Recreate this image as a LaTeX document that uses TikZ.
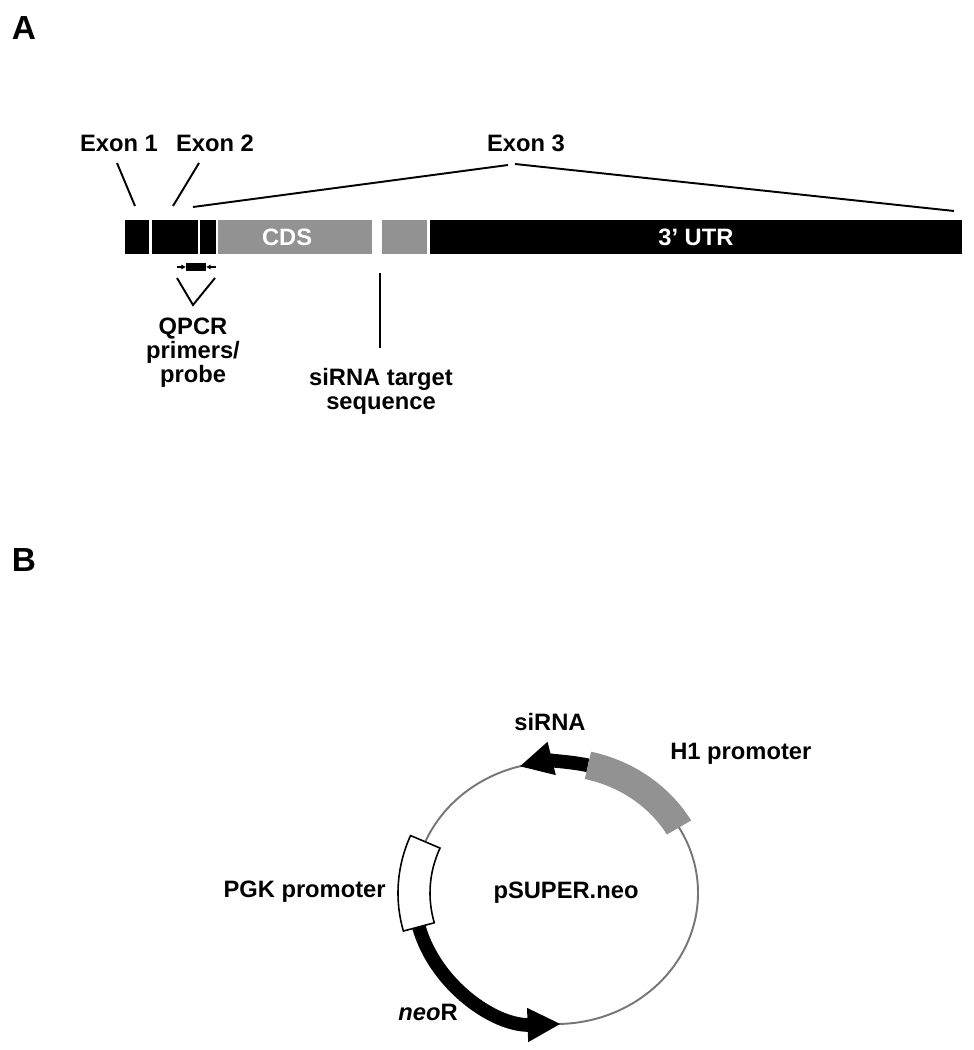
\documentclass[tikz,border=0pt]{standalone}
\usepackage{fontspec}
\setmainfont{Liberation Sans}
\usetikzlibrary{arrows.meta,positioning}

\newcommand{\pxl}{0.02cm}
\definecolor{cdsgray}{RGB}{146,146,146}
\definecolor{ringgray}{RGB}{118,118,118}

\tikzset{
  lbl/.style={font=\fontsize{13.5}{13.6}\selectfont\bfseries, inner sep=0pt},
  panel/.style={font=\fontsize{19}{21}\selectfont\bfseries, inner sep=0pt},
  seg/.style={anchor=north west, inner sep=0pt, outer sep=0pt, minimum height=34*\pxl, fill=black, text=white, lbl},
  cdsseg/.style={seg, fill=cdsgray},
  leader/.style={line width=1.1pt},
  primer/.style={line width=0.6pt, -{Latex[length=2.6pt,width=3pt]}},
  ringline/.style={draw=ringgray, line width=1.1pt},
  orf/.style={line width=7.8pt, -{Triangle[length=19pt,width=18pt]}}
}

\begin{document}
\begin{tikzpicture}[x=0.02cm, y=-0.02cm]
\useasboundingbox (0,0) rectangle (973,1050);

\node[panel] (pa) at (24,28) {A};
\node[panel] (pb) at (24,560) {B};

\node[lbl] (ex1lbl) at (119,143) {Exon 1};
\node[lbl] (ex2lbl) at (215,143) {Exon 2};
\node[lbl] (ex3lbl) at (526,143) {Exon 3};

\node[seg, minimum width=24*\pxl] (ex1) at (125,220) {};
\node[seg, minimum width=46*\pxl, right=1.7pt of ex1] (ex2) {};
\node[seg, minimum width=16*\pxl, right=1.13pt of ex2] (ex3) {};
\node[cdsseg, minimum width=154*\pxl, right=1.13pt of ex3] (cds) {};
\node[cdsseg, minimum width=45*\pxl, right=5.67pt of cds] (cdsend) {};
\node[seg, minimum width=532*\pxl, right=1.7pt of cdsend] (utr) {3’ UTR};
\node[lbl, text=white] (cdslbl) at ([xshift=-4.5pt]cds.center) {CDS};

\coordinate (e1a) at (117,163);
\coordinate (e1b) at (135,206);
\coordinate (e2a) at (199,163);
\coordinate (e2b) at (173,206);
\coordinate (e3l) at (193,207);
\coordinate (e3p) at (508,165);
\coordinate (e3q) at (515,164);
\coordinate (e3r) at (954,211);
\draw[leader] (e1a) -- (e1b);
\draw[leader] (e2a) -- (e2b);
\draw[leader] (e3l) -- (e3p);
\draw[leader] (e3q) -- (e3r);

\node[fill=black, inner sep=0pt, outer sep=0pt, minimum width=20*\pxl, minimum height=8*\pxl] (probe) at (196,267) {};
\coordinate (fwd) at (177,267);
\coordinate (rev) at (216,267);
\draw[primer] (fwd) -- (probe.west);
\draw[primer] (rev) -- (probe.east);

\coordinate (vl) at (177,278);
\coordinate (vb) at (193,305);
\coordinate (vr) at (215,278);
\draw[leader] (vl) -- (vb) -- (vr);
\node[lbl, align=center, anchor=north] (qpcr) at (193,318) {QPCR\\primers/\\probe};

\coordinate (sitop) at (380,273);
\coordinate (sibot) at (380,348);
\draw[leader] (sitop) -- (sibot);
\node[lbl, align=center, anchor=north] (silbl) at (381,368) {siRNA target\\sequence};

\begin{scope}[shift={(556,893)}, y=0.02cm]
  \draw[ringline] (0,0) ellipse [x radius=142, y radius=131];
  \draw[orf] (77:142 and 131) arc [start angle=77, end angle=105, x radius=142, y radius=131];
  \draw[orf] (195:142 and 131) arc [start angle=195, end angle=272, x radius=142, y radius=131];
  \fill[cdsgray] (30:156 and 145) arc [start angle=30, end angle=77, x radius=156, y radius=145]
    -- (77:128 and 117) arc [start angle=77, end angle=30, x radius=128, y radius=117] -- cycle;
  \filldraw[fill=white, draw=black, line width=0.9pt] (157:158 and 147) arc [start angle=157, end angle=195, x radius=158, y radius=147]
    -- (195:126 and 115) arc [start angle=195, end angle=157, x radius=126, y radius=115] -- cycle;
\end{scope}

\node[lbl] (sirna) at (550,722) {siRNA};
\node[lbl, anchor=west] (hone) at (670,754) {H1 promoter};
\node[lbl, anchor=east] (pgk) at (386,892) {PGK promoter};
\node[lbl] (psuper) at (566,893) {pSUPER.neo};
\node[lbl, anchor=east] (neor) at (458,1012) {\textit{neo}R};
\end{tikzpicture}
\end{document}
